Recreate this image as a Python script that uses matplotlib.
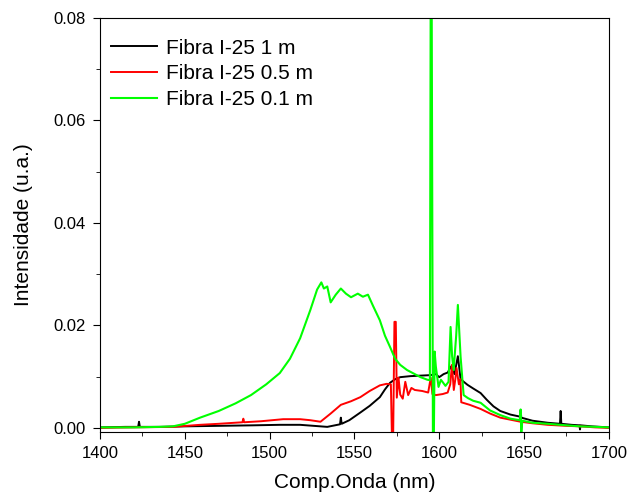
import numpy as np
import matplotlib
matplotlib.use("Agg")
from matplotlib import pyplot as plt
from matplotlib.ticker import MultipleLocator, FormatStrFormatter

plt.rcParams['font.family'] = ['Liberation Sans', 'DejaVu Sans']

# Fibra I-25 1 m
wl_k = [1400, 1415, 1422.5, 1423, 1423.5, 1435, 1450, 1470, 1490, 1506,
        1518, 1526, 1534, 1541.5, 1542, 1542.5, 1547, 1553.5, 1559, 1565,
        1568, 1571, 1574, 1577, 1583, 1589, 1595, 1598, 1600, 1602.6,
        1605, 1607, 1609, 1611, 1612.6, 1616.7, 1620, 1624.4, 1628, 1632,
        1636, 1642, 1647.6, 1648, 1648.4, 1655, 1664, 1671.2, 1671.6, 1672,
        1678, 1682.7, 1683, 1683.3, 1690, 1700]
int_k = [0.0001, 0.0002, 0.0002, 0.0012, 0.0002, 0.0002, 0.0003, 0.0004, 0.0005, 0.0006,
         0.0006, 0.0004, 0.0002, 0.0007, 0.002, 0.0008, 0.0015, 0.003, 0.0043, 0.006,
         0.0075, 0.0088, 0.0095, 0.0099, 0.0101, 0.0102, 0.0103, 0.0105, 0.0099, 0.0105,
         0.0108, 0.012, 0.0105, 0.014, 0.0095, 0.0084, 0.0077, 0.0068, 0.0055, 0.0042,
         0.0033, 0.0026, 0.0022, 0.0034, 0.002, 0.0014, 0.001, 0.0008, 0.0033, 0.0008,
         0.0006, 0.0005, -0.0003, 0.0005, 0.0003, 0.0001]

# Fibra I-25 0.5 m
wl_r = [1400, 1420, 1443, 1459, 1470, 1484, 1484.5, 1485, 1495, 1508,
        1518, 1524, 1530, 1536, 1542, 1548, 1553.5, 1559, 1565, 1569,
        1571.5, 1572.2, 1572.8, 1573.6, 1574.4, 1575, 1576, 1577, 1578.5, 1580,
        1581.7, 1583.6, 1585.6, 1590, 1593.5, 1595, 1596, 1598, 1602, 1605,
        1606.5, 1607.5, 1608.6, 1609.5, 1610.2, 1611.6, 1612.5, 1613, 1618, 1624.4,
        1630, 1636, 1642, 1648, 1655, 1664, 1675, 1683, 1692, 1700]
int_r = [0.0, 0.0001, 0.0002, 0.0006, 0.0008, 0.0011, 0.0018, 0.0011, 0.0013, 0.0017,
         0.0017, 0.0015, 0.0012, 0.0028, 0.0045, 0.0052, 0.006, 0.0072, 0.0083, 0.0086,
         0.0085, -0.003, -0.003, 0.0207, 0.0207, 0.0059, 0.0098, 0.0065, 0.0057, 0.009,
         0.0064, 0.0078, 0.0074, 0.0072, 0.0069, 0.0098, 0.0066, 0.0064, 0.0066, 0.0069,
         0.0085, 0.0123, 0.0074, 0.0095, 0.0117, 0.0085, 0.0095, 0.005, 0.0045, 0.0037,
         0.0028, 0.002, 0.0016, 0.0012, 0.0009, 0.0006, 0.0004, 0.0003, 0.0001, 0.0]

# Fibra I-25 0.1 m
wl_g = [1400, 1420, 1435, 1443, 1450, 1459, 1470, 1480, 1489, 1498,
        1506, 1512, 1518, 1524, 1528, 1530.5, 1532, 1534, 1536, 1539,
        1542, 1545, 1548, 1552, 1555, 1558, 1561, 1565, 1568, 1571,
        1574, 1577, 1581, 1585, 1589, 1593, 1594.5, 1595, 1595.5, 1596.3,
        1596.8, 1597.3, 1598, 1599.6, 1601, 1603.7, 1605.5, 1606.7, 1607.6, 1608.5,
        1610, 1611, 1612.6, 1614.4, 1617, 1620, 1624.4, 1630, 1636, 1642,
        1647.5, 1648, 1648.4, 1649, 1655, 1664, 1675, 1683, 1692, 1700]
int_g = [0.0001, 0.0001, 0.0002, 0.0003, 0.0008, 0.002, 0.0033, 0.0048, 0.0064, 0.0085,
         0.0107, 0.0135, 0.0175, 0.023, 0.027, 0.0284, 0.0272, 0.0276, 0.0245, 0.026,
         0.0272, 0.0262, 0.0255, 0.0262, 0.0256, 0.026, 0.0238, 0.021, 0.018, 0.0158,
         0.0135, 0.0123, 0.0113, 0.0106, 0.0099, 0.0094, 0.0093, 0.09, 0.09, -0.003,
         -0.003, 0.0149, 0.012, 0.008, 0.0094, 0.0082, 0.009, 0.0197, 0.014, 0.0113,
         0.018, 0.024, 0.0139, 0.0064, 0.0058, 0.0053, 0.0049, 0.0034, 0.0025, 0.0018,
         0.0015, 0.0036, -0.0008, 0.0014, 0.001, 0.0008, 0.0005, 0.0003, 0.0002, 0.0001]

labels = ['Fibra I-25 1 m', 'Fibra I-25 0.5 m', 'Fibra I-25 0.1 m']

fig = plt.figure(figsize=(6.27, 4.97), dpi=100)
ax = fig.add_axes([0.1595, 0.1308, 0.8115, 0.833])

ax.plot(wl_k, int_k, color='black', lw=1.4, label=labels[0])
ax.plot(wl_r, int_r, color='#ff0000', lw=1.4, label=labels[1])
ax.plot(wl_g, int_g, color='#00ff00', lw=1.5, label=labels[2])

ax.set_xlim(1400, 1700)
ax.set_ylim(-0.0008, 0.08)
ax.xaxis.set_major_locator(MultipleLocator(50))
ax.xaxis.set_minor_locator(MultipleLocator(25))
ax.yaxis.set_major_locator(MultipleLocator(0.02))
ax.yaxis.set_minor_locator(MultipleLocator(0.01))
ax.yaxis.set_major_formatter(FormatStrFormatter('%.2f'))
ax.tick_params(which='both', direction='out', top=False, right=False, labelsize=12)
ax.tick_params(which='major', length=5, pad=5)
ax.tick_params(which='minor', length=3)

ax.set_xlabel('Comp.Onda (nm)', fontsize=15, labelpad=9)
ax.set_ylabel('Intensidade (u.a.)', fontsize=15, labelpad=15)

ax.legend(loc='upper left', bbox_to_anchor=(0.022, 0.95), frameon=False, fontsize=15,
          handlelength=2.2, handletextpad=0.45, borderpad=0, borderaxespad=0,
          labelspacing=0.32)

fig.savefig('out.png', dpi=100)
